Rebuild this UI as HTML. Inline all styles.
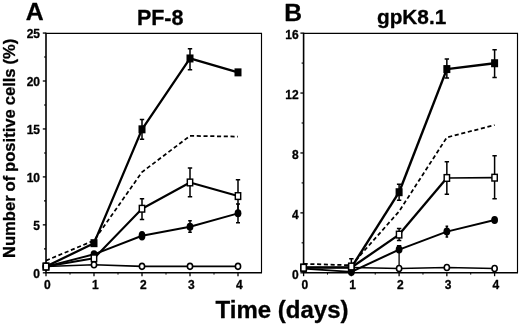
<!DOCTYPE html>
<html><head><meta charset="utf-8"><title>Figure</title>
<style>
html,body{margin:0;padding:0;background:#fff;}
body{width:520px;height:326px;overflow:hidden;font-family:"Liberation Sans", sans-serif;}
svg{display:block;}
#wrap{width:520px;height:326px;opacity:0.999;will-change:transform;}
</style></head><body><div id="wrap">
<svg width="520" height="326" viewBox="0 0 520 326" font-family='"Liberation Sans", sans-serif' fill="#000">
<style>text{stroke:#000;stroke-width:0.3px;stroke-linejoin:round}</style>
<rect width="520" height="326" fill="#fff"/>
<path d="M46.0 33.3 H261.5 V272.8" fill="none" stroke="#000" stroke-width="1.15"/>
<path d="M46.0 32.8 V272.8 H262.0" fill="none" stroke="#000" stroke-width="1.6"/>
<line x1="42.8" y1="272.80" x2="46.0" y2="272.80" stroke="#000" stroke-width="1.3"/>
<text x="40.0" y="277.80" text-anchor="end" font-size="12.0" font-weight="bold">0</text>
<line x1="42.8" y1="224.85" x2="46.0" y2="224.85" stroke="#000" stroke-width="1.3"/>
<text x="40.0" y="229.85" text-anchor="end" font-size="12.0" font-weight="bold">5</text>
<line x1="42.8" y1="176.90" x2="46.0" y2="176.90" stroke="#000" stroke-width="1.3"/>
<text x="40.0" y="181.90" text-anchor="end" font-size="12.0" font-weight="bold">10</text>
<line x1="42.8" y1="128.95" x2="46.0" y2="128.95" stroke="#000" stroke-width="1.3"/>
<text x="40.0" y="133.95" text-anchor="end" font-size="12.0" font-weight="bold">15</text>
<line x1="42.8" y1="81.00" x2="46.0" y2="81.00" stroke="#000" stroke-width="1.3"/>
<text x="40.0" y="86.00" text-anchor="end" font-size="12.0" font-weight="bold">20</text>
<line x1="42.8" y1="33.05" x2="46.0" y2="33.05" stroke="#000" stroke-width="1.3"/>
<text x="40.0" y="38.05" text-anchor="end" font-size="12.0" font-weight="bold">25</text>
<line x1="44.0" y1="248.83" x2="46.0" y2="248.83" stroke="#000" stroke-width="1.1"/>
<line x1="44.0" y1="200.88" x2="46.0" y2="200.88" stroke="#000" stroke-width="1.1"/>
<line x1="44.0" y1="152.93" x2="46.0" y2="152.93" stroke="#000" stroke-width="1.1"/>
<line x1="44.0" y1="104.98" x2="46.0" y2="104.98" stroke="#000" stroke-width="1.1"/>
<line x1="44.0" y1="57.03" x2="46.0" y2="57.03" stroke="#000" stroke-width="1.1"/>
<line x1="46.00" y1="272.8" x2="46.00" y2="276.2" stroke="#000" stroke-width="1.3"/>
<text x="47.30" y="288.7" text-anchor="middle" font-size="12.0" font-weight="bold">0</text>
<line x1="94.00" y1="272.8" x2="94.00" y2="276.2" stroke="#000" stroke-width="1.3"/>
<text x="95.30" y="288.7" text-anchor="middle" font-size="12.0" font-weight="bold">1</text>
<line x1="142.00" y1="272.8" x2="142.00" y2="276.2" stroke="#000" stroke-width="1.3"/>
<text x="143.30" y="288.7" text-anchor="middle" font-size="12.0" font-weight="bold">2</text>
<line x1="190.00" y1="272.8" x2="190.00" y2="276.2" stroke="#000" stroke-width="1.3"/>
<text x="191.30" y="288.7" text-anchor="middle" font-size="12.0" font-weight="bold">3</text>
<line x1="238.00" y1="272.8" x2="238.00" y2="276.2" stroke="#000" stroke-width="1.3"/>
<text x="239.30" y="288.7" text-anchor="middle" font-size="12.0" font-weight="bold">4</text>
<line x1="70.00" y1="272.8" x2="70.00" y2="274.6" stroke="#000" stroke-width="1.0"/>
<line x1="118.00" y1="272.8" x2="118.00" y2="274.6" stroke="#000" stroke-width="1.0"/>
<line x1="166.00" y1="272.8" x2="166.00" y2="274.6" stroke="#000" stroke-width="1.0"/>
<line x1="214.00" y1="272.8" x2="214.00" y2="274.6" stroke="#000" stroke-width="1.0"/>
<path d="M303.6 33.3 H517.5 V272.8" fill="none" stroke="#000" stroke-width="1.15"/>
<path d="M303.6 32.8 V272.8 H518.0" fill="none" stroke="#000" stroke-width="1.6"/>
<line x1="300.40000000000003" y1="272.80" x2="303.6" y2="272.80" stroke="#000" stroke-width="1.3"/>
<text x="298.70000000000005" y="278.50" text-anchor="end" font-size="12.0" font-weight="bold">0</text>
<line x1="300.40000000000003" y1="212.88" x2="303.6" y2="212.88" stroke="#000" stroke-width="1.3"/>
<text x="298.70000000000005" y="218.58" text-anchor="end" font-size="12.0" font-weight="bold">4</text>
<line x1="300.40000000000003" y1="152.96" x2="303.6" y2="152.96" stroke="#000" stroke-width="1.3"/>
<text x="298.70000000000005" y="158.66" text-anchor="end" font-size="12.0" font-weight="bold">8</text>
<line x1="300.40000000000003" y1="93.04" x2="303.6" y2="93.04" stroke="#000" stroke-width="1.3"/>
<text x="298.70000000000005" y="98.74" text-anchor="end" font-size="12.0" font-weight="bold">12</text>
<line x1="300.40000000000003" y1="33.12" x2="303.6" y2="33.12" stroke="#000" stroke-width="1.3"/>
<text x="298.70000000000005" y="38.82" text-anchor="end" font-size="12.0" font-weight="bold">16</text>
<line x1="301.6" y1="242.84" x2="303.6" y2="242.84" stroke="#000" stroke-width="1.1"/>
<line x1="301.6" y1="182.92" x2="303.6" y2="182.92" stroke="#000" stroke-width="1.1"/>
<line x1="301.6" y1="123.00" x2="303.6" y2="123.00" stroke="#000" stroke-width="1.1"/>
<line x1="301.6" y1="63.08" x2="303.6" y2="63.08" stroke="#000" stroke-width="1.1"/>
<line x1="303.60" y1="272.8" x2="303.60" y2="276.2" stroke="#000" stroke-width="1.3"/>
<text x="304.90" y="288.7" text-anchor="middle" font-size="12.0" font-weight="bold">0</text>
<line x1="351.35" y1="272.8" x2="351.35" y2="276.2" stroke="#000" stroke-width="1.3"/>
<text x="352.65" y="288.7" text-anchor="middle" font-size="12.0" font-weight="bold">1</text>
<line x1="399.10" y1="272.8" x2="399.10" y2="276.2" stroke="#000" stroke-width="1.3"/>
<text x="400.40" y="288.7" text-anchor="middle" font-size="12.0" font-weight="bold">2</text>
<line x1="446.85" y1="272.8" x2="446.85" y2="276.2" stroke="#000" stroke-width="1.3"/>
<text x="448.15" y="288.7" text-anchor="middle" font-size="12.0" font-weight="bold">3</text>
<line x1="494.60" y1="272.8" x2="494.60" y2="276.2" stroke="#000" stroke-width="1.3"/>
<text x="495.90" y="288.7" text-anchor="middle" font-size="12.0" font-weight="bold">4</text>
<line x1="327.48" y1="272.8" x2="327.48" y2="274.6" stroke="#000" stroke-width="1.0"/>
<line x1="375.23" y1="272.8" x2="375.23" y2="274.6" stroke="#000" stroke-width="1.0"/>
<line x1="422.98" y1="272.8" x2="422.98" y2="274.6" stroke="#000" stroke-width="1.0"/>
<line x1="470.73" y1="272.8" x2="470.73" y2="274.6" stroke="#000" stroke-width="1.0"/>
<polyline points="46.00,266.57 94.00,264.74 142.00,266.37 190.00,266.37 238.00,266.37" fill="none" stroke="#000" stroke-width="1.6" stroke-linejoin="round"/>
<polyline points="46.00,266.57 94.00,254.29 142.00,235.78 190.00,226.77 238.00,213.34" fill="none" stroke="#000" stroke-width="1.95" stroke-linejoin="round"/>
<polyline points="46.00,266.57 94.00,258.32 142.00,208.74 190.00,182.46 238.00,196.08" fill="none" stroke="#000" stroke-width="2.1" stroke-linejoin="round"/>
<polyline points="46.00,260.62 94.00,240.48 142.00,172.11 190.00,135.85 238.00,136.62" fill="none" stroke="#000" stroke-width="1.75" stroke-linejoin="round" stroke-dasharray="4.1 2.65"/>
<polyline points="46.00,266.57 94.00,243.17 142.00,129.33 190.00,58.46 238.00,72.37" fill="none" stroke="#000" stroke-width="2.3" stroke-linejoin="round"/>
<path d="M142.00 119.46 V139.21 M139.80 119.46 H144.20 M139.80 139.21 H144.20" fill="none" stroke="#000" stroke-width="1.5"/>
<path d="M190.00 48.68 V69.68 M187.80 48.68 H192.20 M187.80 69.68 H192.20" fill="none" stroke="#000" stroke-width="1.5"/>
<path d="M142.00 198.67 V219.48 M139.80 198.67 H144.20 M139.80 219.48 H144.20" fill="none" stroke="#000" stroke-width="1.5"/>
<path d="M190.00 168.08 V196.85 M187.80 168.08 H192.20 M187.80 196.85 H192.20" fill="none" stroke="#000" stroke-width="1.5"/>
<path d="M238.00 179.78 V212.38 M235.80 179.78 H240.20 M235.80 212.38 H240.20" fill="none" stroke="#000" stroke-width="1.5"/>
<path d="M190.00 220.63 V232.33 M188.20 220.63 H191.80 M188.20 232.33 H191.80" fill="none" stroke="#000" stroke-width="1.5"/>
<path d="M238.00 203.94 V222.74 M236.00 203.94 H240.00 M236.00 222.74 H240.00" fill="none" stroke="#000" stroke-width="1.5"/>
<rect x="42.50" y="262.57" width="7.0" height="8.0" fill="#000"/>
<rect x="90.50" y="239.17" width="7.0" height="8.0" fill="#000"/>
<rect x="138.50" y="125.33" width="7.0" height="8.0" fill="#000"/>
<rect x="186.50" y="54.46" width="7.0" height="8.0" fill="#000"/>
<rect x="234.50" y="68.37" width="7.0" height="8.0" fill="#000"/>
<ellipse cx="46.00" cy="266.57" rx="3.4" ry="4.0" fill="#000"/>
<ellipse cx="94.00" cy="254.29" rx="3.4" ry="4.0" fill="#000"/>
<ellipse cx="142.00" cy="235.78" rx="3.4" ry="4.7" fill="#000"/>
<ellipse cx="190.00" cy="226.77" rx="3.4" ry="4.0" fill="#000"/>
<ellipse cx="238.00" cy="213.34" rx="3.4" ry="4.0" fill="#000"/>
<ellipse cx="46.00" cy="266.57" rx="2.6" ry="3.0" fill="#fff" stroke="#000" stroke-width="1.6"/>
<ellipse cx="94.00" cy="264.74" rx="2.6" ry="3.0" fill="#fff" stroke="#000" stroke-width="1.6"/>
<ellipse cx="142.00" cy="266.37" rx="2.6" ry="3.0" fill="#fff" stroke="#000" stroke-width="1.6"/>
<ellipse cx="190.00" cy="266.37" rx="2.6" ry="3.0" fill="#fff" stroke="#000" stroke-width="1.6"/>
<ellipse cx="238.00" cy="266.37" rx="2.6" ry="3.0" fill="#fff" stroke="#000" stroke-width="1.6"/>
<rect x="43.33" y="263.24" width="5.35" height="6.6499999999999995" fill="#fff" stroke="#000" stroke-width="1.45"/>
<rect x="91.32" y="254.99" width="5.35" height="6.6499999999999995" fill="#fff" stroke="#000" stroke-width="1.45"/>
<rect x="139.32" y="205.41" width="5.35" height="6.6499999999999995" fill="#fff" stroke="#000" stroke-width="1.45"/>
<rect x="187.32" y="179.14" width="5.35" height="6.6499999999999995" fill="#fff" stroke="#000" stroke-width="1.45"/>
<rect x="235.32" y="192.75" width="5.35" height="6.6499999999999995" fill="#fff" stroke="#000" stroke-width="1.45"/>
<polyline points="303.60,267.56 351.35,267.56 399.10,268.46 446.85,267.56 494.60,268.46" fill="none" stroke="#000" stroke-width="1.5" stroke-linejoin="round"/>
<polyline points="303.60,268.61 351.35,271.90" fill="none" stroke="#000" stroke-width="1.9" stroke-linejoin="round"/>
<polyline points="351.35,271.90 399.10,249.58" fill="none" stroke="#000" stroke-width="2.1" stroke-linejoin="round"/>
<polyline points="399.10,249.58 446.85,231.61" fill="none" stroke="#000" stroke-width="2.0" stroke-linejoin="round"/>
<polyline points="446.85,231.61 494.60,219.92" fill="none" stroke="#000" stroke-width="2.0" stroke-linejoin="round"/>
<circle cx="351.35" cy="271.90" r="1.05" fill="#000"/>
<circle cx="399.10" cy="249.58" r="1.00" fill="#000"/>
<circle cx="446.85" cy="231.61" r="1.00" fill="#000"/>
<polyline points="303.60,267.56 351.35,267.56" fill="none" stroke="#000" stroke-width="1.9" stroke-linejoin="round"/>
<polyline points="351.35,267.56 399.10,234.60" fill="none" stroke="#000" stroke-width="2.3" stroke-linejoin="round"/>
<polyline points="399.10,234.60 446.85,177.98" fill="none" stroke="#000" stroke-width="2.3" stroke-linejoin="round"/>
<polyline points="446.85,177.98 494.60,177.68" fill="none" stroke="#000" stroke-width="1.7" stroke-linejoin="round"/>
<circle cx="351.35" cy="267.56" r="1.15" fill="#000"/>
<circle cx="399.10" cy="234.60" r="1.15" fill="#000"/>
<circle cx="446.85" cy="177.98" r="0.85" fill="#000"/>
<polyline points="303.60,263.81 351.35,265.31 399.10,211.38 446.85,137.38 494.60,125.10" fill="none" stroke="#000" stroke-width="1.75" stroke-linejoin="round" stroke-dasharray="4.1 2.65"/>
<polyline points="303.60,267.56 351.35,267.56" fill="none" stroke="#000" stroke-width="1.9" stroke-linejoin="round"/>
<polyline points="351.35,267.56 399.10,192.21" fill="none" stroke="#000" stroke-width="2.4" stroke-linejoin="round"/>
<polyline points="399.10,192.21 446.85,69.07" fill="none" stroke="#000" stroke-width="2.4" stroke-linejoin="round"/>
<polyline points="446.85,69.07 494.60,63.23" fill="none" stroke="#000" stroke-width="2.4" stroke-linejoin="round"/>
<circle cx="351.35" cy="267.56" r="1.20" fill="#000"/>
<circle cx="399.10" cy="192.21" r="1.20" fill="#000"/>
<circle cx="446.85" cy="69.07" r="1.20" fill="#000"/>
<path d="M399.10 245.58 V268.46 M396.90 245.58 H401.30" fill="none" stroke="#000" stroke-width="1.3"/>
<path d="M399.10 184.27 V200.15 M396.90 184.27 H401.30 M396.90 200.15 H401.30" fill="none" stroke="#000" stroke-width="1.5"/>
<path d="M446.85 58.89 V78.06 M444.65 58.89 H449.05 M444.65 78.06 H449.05" fill="none" stroke="#000" stroke-width="1.5"/>
<path d="M494.60 49.75 V77.46 M492.40 49.75 H496.80 M492.40 77.46 H496.80" fill="none" stroke="#000" stroke-width="1.5"/>
<path d="M351.35 258.87 V267.56 M349.15 258.87 H353.55 M349.15 267.56 H353.55" fill="none" stroke="#000" stroke-width="1.5"/>
<path d="M399.10 228.61 V240.59 M396.90 228.61 H401.30 M396.90 240.59 H401.30" fill="none" stroke="#000" stroke-width="1.5"/>
<path d="M446.85 161.65 V194.30 M444.65 161.65 H449.05 M444.65 194.30 H449.05" fill="none" stroke="#000" stroke-width="1.5"/>
<path d="M494.60 155.66 V198.80 M492.40 155.66 H496.80 M492.40 198.80 H496.80" fill="none" stroke="#000" stroke-width="1.5"/>
<path d="M446.85 226.21 V237.00 M445.55 226.21 H448.15 M445.55 237.00 H448.15" fill="none" stroke="#000" stroke-width="1.5"/>
<rect x="300.10" y="263.56" width="7.0" height="8.0" fill="#000"/>
<rect x="347.85" y="263.56" width="7.0" height="8.0" fill="#000"/>
<rect x="395.60" y="188.21" width="7.0" height="8.0" fill="#000"/>
<rect x="443.35" y="65.07" width="7.0" height="8.0" fill="#000"/>
<rect x="491.10" y="59.23" width="7.0" height="8.0" fill="#000"/>
<ellipse cx="303.60" cy="268.61" rx="3.4" ry="4.0" fill="#000"/>
<ellipse cx="351.35" cy="271.90" rx="3.4" ry="4.0" fill="#000"/>
<ellipse cx="399.10" cy="249.58" rx="3.4" ry="4.0" fill="#000"/>
<ellipse cx="446.85" cy="231.61" rx="3.4" ry="4.0" fill="#000"/>
<ellipse cx="494.60" cy="219.92" rx="3.4" ry="4.0" fill="#000"/>
<ellipse cx="303.60" cy="267.56" rx="2.6" ry="3.0" fill="#fff" stroke="#000" stroke-width="1.6"/>
<ellipse cx="351.35" cy="267.56" rx="2.6" ry="3.0" fill="#fff" stroke="#000" stroke-width="1.6"/>
<ellipse cx="399.10" cy="268.46" rx="2.6" ry="3.0" fill="#fff" stroke="#000" stroke-width="1.6"/>
<ellipse cx="446.85" cy="267.56" rx="2.6" ry="3.0" fill="#fff" stroke="#000" stroke-width="1.6"/>
<ellipse cx="494.60" cy="268.46" rx="2.6" ry="3.0" fill="#fff" stroke="#000" stroke-width="1.6"/>
<rect x="300.93" y="264.38" width="5.35" height="6.6499999999999995" fill="#fff" stroke="#000" stroke-width="1.45"/>
<rect x="348.68" y="263.18" width="5.35" height="6.6499999999999995" fill="#fff" stroke="#000" stroke-width="1.45"/>
<rect x="396.43" y="231.28" width="5.35" height="6.6499999999999995" fill="#fff" stroke="#000" stroke-width="1.45"/>
<rect x="444.18" y="174.65" width="5.35" height="6.6499999999999995" fill="#fff" stroke="#000" stroke-width="1.45"/>
<rect x="491.93" y="174.35" width="5.35" height="6.6499999999999995" fill="#fff" stroke="#000" stroke-width="1.45"/>
<text x="25.7" y="19.5" font-size="24.8" font-weight="bold">A</text>
<text x="284.2" y="21.4" font-size="24.6" font-weight="bold">B</text>
<text x="160.2" y="25.4" text-anchor="middle" font-size="21.5" font-weight="bold">PF-8</text>
<text x="411.6" y="24.1" text-anchor="middle" font-size="20.8" font-weight="bold">gpK8.1</text>
<text x="282.0" y="317.8" text-anchor="middle" font-size="24.0" font-weight="bold">Time (days)</text>
<text transform="translate(14.8 148.4) rotate(-90)" text-anchor="middle" word-spacing="-0.7" font-size="16.6" font-weight="bold">Number of positive cells (%)</text>
</svg>
</div></body></html>
